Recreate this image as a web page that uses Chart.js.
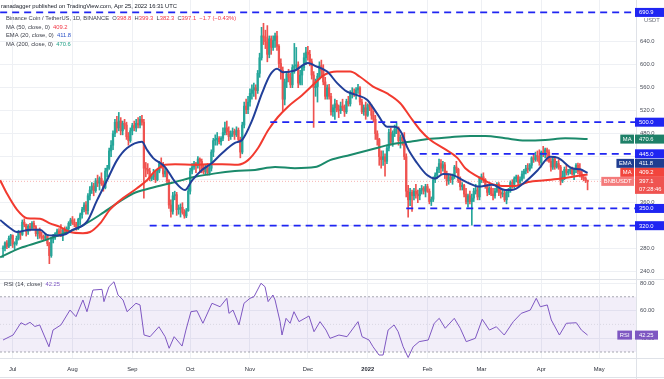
<!DOCTYPE html>
<html><head><meta charset="utf-8">
<script src="https://cdn.jsdelivr.net/npm/chart.js@4.4.1/dist/chart.umd.min.js"></script>
<style>html,body{margin:0;padding:0;background:#fff;overflow:hidden}canvas{display:block}</style>
</head><body>
<canvas id="c" width="664" height="379"></canvas>
<script>
// ---- data (daily candles, index 0 = 2021-06-26, last = 2022-04-25) ----
const firstDay = '2021-06-26';
const opens = [280,281,290,284,298,303,288,289,298,309,
305,326,322,310,319,316,324,318,306,312,
302,300,298,302,289,268,297,301,306,311,
305,304,312,310,315,324,330,326,322,316,
331,339,348,356,346,372,382,389,381,398,
394,402,393,386,415,420,450,460,480,500,
490,502,485,498,495,475,468,485,494,490,
498,495,505,500,420,418,415,402,405,412,
400,415,428,424,410,415,398,356,345,372,
374,348,350,352,343,337,346,380,415,422,
428,425,436,432,418,414,422,412,420,448,
468,470,472,466,472,482,490,484,475,480,
484,478,486,470,448,495,528,522,535,550,
556,560,555,585,612,650,648,640,618,645,
630,642,650,632,602,590,540,570,584,578,
565,595,598,600,568,582,595,612,622,618,
605,582,560,562,580,598,590,570,545,560,
545,518,525,532,522,520,528,525,518,536,
532,550,552,550,556,560,535,518,525,512,
530,527,512,505,480,470,440,435,440,432,
455,482,465,480,488,490,468,474,468,440,
380,365,378,372,380,375,372,382,385,380,
388,380,362,366,400,408,418,428,420,426,
410,398,405,400,405,422,418,398,388,390,
375,362,372,362,368,380,382,370,402,405,
400,390,378,385,375,372,380,392,378,375,
376,365,378,382,395,392,402,405,395,400,
410,415,420,418,425,438,435,442,440,430,
448,445,452,448,432,422,436,422,428,422,
398,405,418,412,415,418,410,418,425,414,
410,404,402,398.8];
const highs = [285,292,294,302,305,304,292,302,312,310,
330,332,323,322,324,327,328,320,314,316,
309,304,306,303,291,300,305,308,314,315,
322,314,318,318,327,333,336,332,326,333,
342,352,360,362,376,388,395,394,402,408,
405,412,398,420,425,455,468,485,505,510,
517,508,502,505,500,482,490,498,502,505,
508,510,512,505,430,428,420,410,418,415,
418,432,438,430,420,418,400,365,378,380,
378,356,358,360,348,350,385,420,428,432,
430,440,438,436,425,426,428,425,452,472,
478,482,475,475,490,500,502,492,485,490,
488,492,490,474,500,535,540,545,558,565,
568,565,590,620,665,672,660,668,650,650,
650,655,658,635,610,596,575,588,592,585,
600,637,630,605,590,598,620,630,632,625,
610,588,575,585,605,608,600,578,565,566,
550,530,540,538,530,535,540,530,540,545,
555,560,558,560,566,562,540,530,535,532,
535,530,520,512,485,472,450,450,445,460,
488,490,485,495,498,492,478,480,482,445,
390,385,382,385,392,382,385,390,388,392,
392,384,370,405,412,422,436,435,432,430,
415,410,410,410,425,432,420,405,395,392,
385,375,380,375,385,392,388,405,410,412,
402,392,388,388,385,385,395,395,385,382,
380,380,385,398,400,405,408,408,405,415,
418,425,428,428,440,445,448,450,452,450,
458,455,455,452,438,440,440,432,435,425,
415,422,425,418,420,422,420,428,429,428,
415,408,405,399.3];
const lows = [265,276,280,282,285,282,278,286,295,296,
303,318,302,305,311,313,314,302,297,298,
296,294,294,285,254,265,290,296,302,302,
301,294,305,306,308,320,322,318,312,313,
322,333,344,340,340,365,376,372,378,388,
382,390,380,384,405,418,440,452,475,482,
485,478,478,488,470,460,465,478,485,484,
490,490,495,368,405,410,398,398,400,395,
398,412,420,405,405,395,350,335,340,365,
338,340,335,340,333,334,345,375,410,418,
412,420,412,412,410,410,408,408,415,440,
460,460,462,460,468,478,478,468,470,475,
470,475,466,438,445,490,515,515,528,540,
545,540,550,578,608,635,628,605,612,618,
625,630,625,595,575,520,530,560,570,560,
560,585,590,560,565,565,590,600,608,598,
575,491,545,535,575,580,565,540,540,540,
512,510,505,518,508,515,520,510,515,528,
528,542,545,540,550,530,515,512,505,510,
520,505,500,470,460,425,420,425,406,428,
450,460,458,475,480,460,455,460,435,370,
335,355,345,365,368,360,365,375,375,370,
378,358,355,362,395,402,412,410,415,402,
390,392,395,392,402,412,395,382,382,370,
358,352,358,321,362,375,365,365,395,395,
385,372,374,372,365,368,378,372,368,370,
362,358,370,378,385,385,396,390,390,398,
402,410,412,415,420,430,432,432,425,422,
440,438,432,430,415,418,418,420,418,391,
395,400,408,408,410,408,400,412,410,405,
400,398,395,382.3];
const closes = [281,290,284,298,303,288,289,298,309,305,
326,322,310,319,316,324,318,306,312,302,
300,298,302,289,268,297,301,306,311,305,
304,312,310,315,324,330,326,322,316,331,
339,348,356,346,372,382,389,381,398,394,
402,393,386,415,420,450,460,480,500,490,
502,485,498,495,475,468,485,494,490,498,
495,505,500,420,418,415,402,405,412,400,
415,428,424,410,415,398,356,345,372,374,
348,350,352,343,337,346,380,415,422,428,
425,436,432,418,414,422,412,420,448,468,
470,472,466,472,482,490,484,475,480,484,
478,486,470,448,495,528,522,535,550,556,
560,555,585,612,650,648,640,618,645,630,
642,650,632,602,590,540,570,584,578,565,
595,598,600,568,582,595,612,622,618,605,
582,560,562,580,598,590,570,545,560,545,
518,525,532,522,520,528,525,518,536,532,
550,552,550,556,560,535,518,525,512,530,
527,512,505,480,470,440,435,440,432,455,
482,465,480,488,490,468,474,468,440,380,
365,378,372,380,375,372,382,385,380,388,
380,362,366,400,408,418,428,420,426,410,
398,405,400,405,422,418,398,388,390,375,
362,372,362,368,380,382,370,402,405,400,
390,378,385,375,372,380,392,378,375,376,
365,378,382,395,392,402,405,395,400,410,
415,420,418,425,438,435,442,440,430,448,
445,452,448,432,422,436,422,428,422,398,
405,418,412,415,418,410,418,425,414,410,
404,402,398.8,397.1];

// moving averages (day index, value)
const ema20Idx = [-1.5,3.6,7.2,14,19.2,22.8,25.9,31.1,36.3,43.5,48.7,53.9,59.1,64.3,72,74.6,77.7,84,89.2,94.3,98,103.1,108.3,113.5,120.2,123.9,129.1,134.2,138.4,142,145.1,151.3,158.1,161.7,168,173.2,178.3,183.5,188.7,193.9,199.1,203.2,206.8,209.4,214.6,219.8,223.9,228.1,233.3,238.5,242.1,246.3,253.5,260.2,263.8,270.6,277.3,283.6,287.7,295,299.1,303];
const ema20Vals = [330,316,309,313,313,304,303,304,313,327,364,399,434,455,466,452,438,422,396,382,399,417,429,446,464,469,503,550,582,593,587,590,603,598,588,568,553,547,539,515,492,492,480,457,429,408,402,410,408,399,393,388,391,382,382,396,417,440,438,420,418,411.8];
const ma50Idx = [-1.5,2,7.2,12.4,19.2,24.3,29.5,34.7,41.4,45.1,50.3,55.4,62.2,69.4,74.6,78.8,84,89.2,99.6,106.3,113.5,121.8,127,132.2,137.4,142.5,147.7,155,161.7,165.9,173.1,179.9,185,191.8,199.1,205.9,211.1,216.3,221.5,228.2,235.5,239.6,246.3,253.6,258.8,265.5,272.2,281,289.8,296.6,303];
const ma50Vals = [399,376,348,333,332,324,318,309,307,309,324,348,368,385,399,415,426,427,426,427,427,426,434,455,486,509,527,547,568,581,588,588,579,562,550,533,509,486,469,455,438,420,405,392,389,389,396,399,402,406,409.2];
const ma200Idx = [-1.5,8.8,19.2,29.5,39.9,50.3,59.1,67.4,76.2,89.2,99.6,110,120.2,130.6,141,151.3,161.7,169.5,179.9,190.3,200.6,211,221.5,231.8,242.2,250,260.3,270.6,281,291.4,303];
const ma200Vals = [265,281,292,304,318,339,359,376,385,396,405,411,415,417,422,420,422,434,443,452,461,466,471,474,476,476,472,468,469,472,470.6];

// RSI(14)
const rsiIdx = [0,5.2,9.3,11.5,14,16.5,19,23.8,25.9,30,34.7,37.8,41.4,43.5,46.6,51.3,52.3,54.9,57.5,59.6,62.2,64.3,68.9,71,73.1,76.2,80.8,84,86.1,88.7,92.8,94.8,97.4,100.5,103.6,108.3,112.5,116,117.1,119.2,122.3,124.9,128,130.1,133.7,135.8,137.4,139.9,141,143.6,144.6,146.7,148.8,150.8,153.4,158.6,161.2,164.3,167.4,169.5,174.1,178.3,184,186.1,189.7,191.8,194.9,197,199.6,202.7,204.8,207.4,210,212.6,215.7,220.4,223.5,226.1,229.2,233.9,237,240.1,244.8,248.4,252.1,255.7,259.8,264.5,268.6,273.3,276.4,278.5,282.1,284.2,288.4,292,297.2,299.8,303];
const rsiVals = [38.7,42.3,51.2,49.6,51.5,48.5,49.6,33.8,45.9,49.6,60.4,55.6,67.7,59.2,74.9,75.4,66.5,77.3,80.9,71.3,67.7,59.2,65.3,64.1,42.3,41.1,48.3,41.1,32.7,41.1,34.3,45.9,59.2,59.9,50.8,65.3,62.8,68.9,58.0,60.4,49.6,65.3,68.9,70.1,79.8,77.3,66.5,71.3,67.7,52.0,42.3,54.4,50.8,59.2,52.0,56.1,44.7,52.0,45.9,39.9,42.3,41.1,52.0,41.1,38.7,33.8,27.8,27.8,45.9,49.6,44.7,33.8,26,33.8,37.5,38.7,50.8,54.4,47.2,54.4,47.2,37.5,39.9,53.7,45.9,48.3,42.3,52.0,58.0,60.4,68.9,62.8,64.1,53.2,42.3,50.8,51.2,45.9,42.25];
const rsiBand = [30, 50, 70];

// analyst horizontal levels and the day they start
const levelVals = [690.9, 500, 445, 350, 320];
const levelStart = [-1.5, 138.5, 216, 209, 76];

// axis tick labels
const monthTickIdx = [5,36,67,97,128,158,189,220,248,279,309];
const monthTickLabels = ['Jul','Aug','Sep','Oct','Nov','Dec','2022','Feb','Mar','Apr','May'];
const priceTicks = [240,280,320,360,400,440,480,520,560,600,640];
const rsiTicks = [40,60,80];

// ---- styling ----
const F = 5.8;
const FONT = '"Liberation Sans", Arial, sans-serif';
const UP = '#26a69a', DOWN = '#ef5350';
const LEVEL = '#1f25f2';
const GRID = '#eef0f4';
const X_MIN = -1.58, X_MAX = 328.1;
Chart.defaults.font.family = FONT;
Chart.defaults.font.size = F;
Chart.defaults.color = '#4a4e59';

const zip = (a, b) => a.map((v, i) => ({x: v, y: b[i]}));
const candleColors = closes.map((c, i) => c >= opens[i] ? UP : DOWN);

function seg(ctx, x, y, parts) {
  ctx.textBaseline = 'middle'; ctx.textAlign = 'left';
  for (const [t, c, b] of parts) {
    ctx.font = (b ? 'bold ' : '') + F + 'px ' + FONT;
    ctx.fillStyle = c; ctx.fillText(t, x, y);
    x += ctx.measureText(t).width;
  }
}
function valBox(ctx, yc, bg, lines, w) {
  const h = lines.length > 1 ? 17 : 9;
  ctx.fillStyle = bg; ctx.fillRect(635, yc - 4.5, w || 29, h);
  ctx.fillStyle = '#fff'; ctx.textAlign = 'left'; ctx.textBaseline = 'middle';
  lines.forEach((t, k) => ctx.fillText(t, 639, yc + 0.3 + k * 8));
}
function tagBox(ctx, yc, bg, txt, right) {
  const r = right || 634;
  const w = ctx.measureText(txt).width + 5;
  ctx.fillStyle = bg; ctx.fillRect(r - w, yc - 4.5, w, 9);
  ctx.fillStyle = '#fff'; ctx.textAlign = 'left'; ctx.textBaseline = 'middle';
  ctx.fillText(txt, r - w + 2.5, yc + 0.3);
}

const decor = {
  id: 'decor',
  beforeDatasetsDraw(chart) {
    const {ctx, chartArea: a} = chart;
    const r = chart.scales.rsi;
    const yTop = r.getPixelForValue(rsiBand[2]), yBot = r.getPixelForValue(rsiBand[0]), yMid = r.getPixelForValue(rsiBand[1]);
    ctx.save();
    ctx.fillStyle = 'rgba(126,87,194,0.10)';
    ctx.fillRect(a.left, yTop, a.right - a.left, yBot - yTop);
    ctx.strokeStyle = 'rgba(120,123,134,0.8)'; ctx.lineWidth = 0.8; ctx.setLineDash([2, 2]);
    for (const yy of [yTop, yBot]) { ctx.beginPath(); ctx.moveTo(a.left, yy); ctx.lineTo(a.right, yy); ctx.stroke(); }
    ctx.strokeStyle = 'rgba(120,123,134,0.25)'; ctx.setLineDash([1, 2]);
    ctx.beginPath(); ctx.moveTo(a.left, yMid); ctx.lineTo(a.right, yMid); ctx.stroke();
    const yp = chart.scales.y.getPixelForValue(closes[closes.length - 1]);
    ctx.strokeStyle = 'rgba(239,83,80,0.55)'; ctx.setLineDash([1, 2]);
    ctx.beginPath(); ctx.moveTo(a.left, yp); ctx.lineTo(a.right, yp); ctx.stroke();
    ctx.restore();
  },
  afterDraw(chart) {
    const {ctx} = chart;
    const y = chart.scales.y, r = chart.scales.rsi;
    ctx.save();
    // separators
    ctx.strokeStyle = '#dfe2e8'; ctx.lineWidth = 1;
    ctx.beginPath();
    ctx.moveTo(0, Math.round(r.top) + 0.5); ctx.lineTo(664, Math.round(r.top) + 0.5);
    ctx.moveTo(0, 358.5); ctx.lineTo(664, 358.5);
    ctx.moveTo(0, 377.5); ctx.lineTo(664, 377.5);
    ctx.moveTo(636.5, 0); ctx.lineTo(636.5, 379);
    ctx.stroke();

    ctx.font = F + 'px ' + FONT;
    // level labels
    levelVals.forEach(v => valBox(ctx, y.getPixelForValue(v), LEVEL, [v.toFixed(1)]));
    ctx.fillStyle = '#6a6d78'; ctx.textBaseline = 'middle'; ctx.fillText('USDT', 644, 20);
    // MA200
    const last = a => a[a.length - 1];
    let yy = y.getPixelForValue(last(ma200Vals));
    tagBox(ctx, yy, '#1e8068', 'MA'); valBox(ctx, yy, '#1e8068', [last(ma200Vals).toFixed(1)]);
    // price / MA50 / EMA20 cluster, stacked upward to avoid overlap
    const yPrice = y.getPixelForValue(last(closes));
    const yMa = Math.min(y.getPixelForValue(last(ma50Vals)), yPrice - 9);
    const yEma = Math.min(y.getPixelForValue(last(ema20Vals)), yMa - 9);
    tagBox(ctx, yEma, '#1f3d91', 'EMA'); valBox(ctx, yEma, '#1f3d91', [last(ema20Vals).toFixed(1)]);
    tagBox(ctx, yMa, '#f2453d', 'MA'); valBox(ctx, yMa, '#f2453d', [last(ma50Vals).toFixed(1)]);
    tagBox(ctx, yPrice, '#f47b7b', 'BNBUSDT'); valBox(ctx, yPrice, '#ef5350', [last(closes).toFixed(1), '07:28:46']);
    // RSI
    const yR = r.getPixelForValue(last(rsiVals));
    tagBox(ctx, yR, '#7e57c2', 'RSI', 632); valBox(ctx, yR, '#7e57c2', [last(rsiVals).toFixed(2)], 23);

    // header legend
    const dark = '#131722', gray = '#3b3e48', red = '#f23645';
    seg(ctx, 1, 6, [['ranadagger published on TradingView.com, Apr 25, 2022 16:31 UTC', dark]]);
    seg(ctx, 6, 18, [['Binance Coin / TetherUS, 1D, BINANCE  ', gray], ['O', gray], ['398.8  ', red], ['H', gray], ['399.3  ', red], ['L', gray], ['382.3  ', red], ['C', gray], ['397.1  ', red], ['\u22121.7 (\u22120.43%)', red]]);
    seg(ctx, 6, 27, [['MA (50, close, 0)  ', gray], ['409.2', red]]);
    seg(ctx, 6, 35.5, [['EMA (20, close, 0)  ', gray], ['411.8', '#2f55c8']]);
    seg(ctx, 6, 44, [['MA (200, close, 0)  ', gray], ['470.6', '#22a086']]);
    seg(ctx, 4, 284.5, [['RSI (14, close)  ', gray], ['42.25', '#7e57c2']]);
    ctx.restore();
  }
};

new Chart(document.getElementById('c'), {
  type: 'bar',
  data: {
    datasets: [
      ...levelVals.map((v, k) => ({
        type: 'line', data: [{x: levelStart[k], y: v}, {x: X_MAX, y: v}], yAxisID: 'y',
        borderColor: LEVEL, borderWidth: 1.8, borderDash: [7, 5], pointRadius: 0, order: 1
      })),
      {type: 'line', label: 'EMA 20', data: zip(ema20Idx, ema20Vals), yAxisID: 'y', borderColor: '#213f99', borderWidth: 2, pointRadius: 0, cubicInterpolationMode: 'monotone', order: 2},
      {type: 'line', label: 'MA 50', data: zip(ma50Idx, ma50Vals), yAxisID: 'y', borderColor: '#f23a2f', borderWidth: 2, pointRadius: 0, cubicInterpolationMode: 'monotone', order: 2},
      {type: 'line', label: 'MA 200', data: zip(ma200Idx, ma200Vals), yAxisID: 'y', borderColor: '#1b8a6b', borderWidth: 2, pointRadius: 0, cubicInterpolationMode: 'monotone', order: 2},
      {type: 'bar', label: 'wicks', data: closes.map((c, i) => ({x: i, y: [lows[i], highs[i]]})), yAxisID: 'y',
        backgroundColor: candleColors, borderWidth: 0, barThickness: 1, grouped: false, order: 6},
      {type: 'bar', label: 'bodies', data: closes.map((c, i) => ({x: i, y: [opens[i], c]})), yAxisID: 'y',
        backgroundColor: candleColors, borderWidth: 0, barThickness: 1.6, minBarLength: 0.8, grouped: false, order: 5},
      {type: 'line', label: 'RSI', data: zip(rsiIdx, rsiVals), yAxisID: 'rsi', borderColor: '#7e57c2', borderWidth: 1, pointRadius: 0, tension: 0, order: 2}
    ]
  },
  options: {
    responsive: false, maintainAspectRatio: false, animation: false, events: [],
    layout: {padding: 0},
    plugins: {legend: {display: false}, tooltip: {enabled: false}},
    scales: {
      x: {
        type: 'linear', min: X_MIN, max: X_MAX, offset: false,
        grid: {color: GRID, drawTicks: false, offset: false}, border: {display: false},
        afterBuildTicks: s => { s.ticks = monthTickIdx.map(v => ({value: v})); },
        afterFit: s => { s.height = 21; s.paddingLeft = 0; s.paddingRight = 0; },
        ticks: {
          autoSkip: false, maxRotation: 0, padding: 8, color: '#2a2e39',
          font: c => ({size: F, weight: (c.tick && c.tick.value === 189) ? 'bold' : 'normal'}),
          callback: v => { const k = monthTickIdx.indexOf(v); return k >= 0 ? monthTickLabels[k] : ''; }
        }
      },
      y: {
        type: 'linear', position: 'right', stack: 'panes', stackWeight: 279, weight: 1,
        min: 227.3, max: 712.5,
        grid: {color: GRID, drawTicks: false}, border: {display: false},
        afterBuildTicks: s => { s.ticks = priceTicks.map(v => ({value: v})); },
        afterFit: s => { s.width = 28; s.paddingTop = 0; s.paddingBottom = 0; },
        ticks: {padding: 4, color: '#4a4e59', callback: v => v.toFixed(1)}
      },
      rsi: {
        type: 'linear', position: 'right', stack: 'panes', stackWeight: 79, weight: 2,
        min: 25.65, max: 82.9,
        grid: {color: GRID, drawTicks: false}, border: {display: false},
        afterBuildTicks: s => { s.ticks = rsiTicks.map(v => ({value: v})); },
        afterFit: s => { s.width = 28; s.paddingTop = 0; s.paddingBottom = 0; },
        ticks: {padding: 4, color: '#4a4e59', callback: v => v.toFixed(2)}
      }
    }
  },
  plugins: [decor]
});
</script>
</body></html>
